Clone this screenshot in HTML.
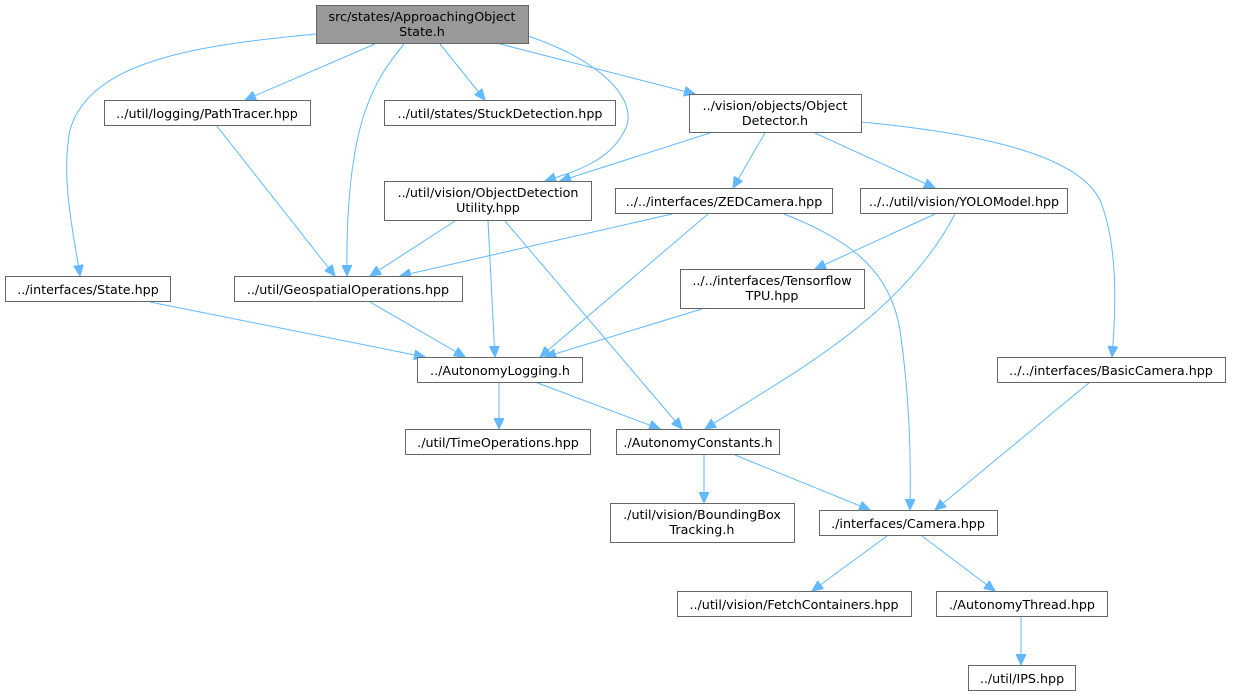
<!DOCTYPE html>
<html><head><meta charset="utf-8"><style>
html,body{margin:0;padding:0;background:#fff;}
svg{display:block;}
text{font-family:"DejaVu Sans","Liberation Sans",sans-serif;font-size:12.7px;fill:#000;}
.n{fill:#fff;stroke:#666;stroke-width:1;}
.e{fill:none;stroke:#63b8ff;stroke-width:1;marker-end:url(#a);}
</style></head><body>
<svg width="1233" height="696" viewBox="0 0 1233 696" xmlns="http://www.w3.org/2000/svg">
<defs><marker id="a" markerWidth="12" markerHeight="10" refX="11" refY="5" orient="auto" markerUnits="userSpaceOnUse"><path d="M0,0 L11,5 L0,10 z" fill="#63b8ff" stroke="#63b8ff"/></marker></defs>
<g>
<path class="e" d="M316,34 C200,45 90,60 70,130 C60,180 75,240 80,276"/>
<path class="e" d="M375,44 L245,100"/>
<path class="e" d="M404,44 C375,80 345,120 347,276"/>
<path class="e" d="M440,44 L485,100"/>
<path class="e" d="M500,44 L695,94"/>
<path class="e" d="M528,36 C600,60 640,100 625,130 C610,160 580,170 545,181"/>
<path class="e" d="M216,125 L335,276"/>
<path class="e" d="M710,133 L560,181"/>
<path class="e" d="M765,133 L733,188"/>
<path class="e" d="M815,133 L935,188"/>
<path class="e" d="M861,122 C1000,135 1080,160 1100,200 C1120,250 1115,320 1112,357"/>
<path class="e" d="M455,221 L370,276"/>
<path class="e" d="M488,221 L495,357"/>
<path class="e" d="M505,221 L682,429"/>
<path class="e" d="M672,214 L400,276"/>
<path class="e" d="M708,214 L540,357"/>
<path class="e" d="M784,214 C850,240 890,270 900,330 C910,400 911,460 910,510"/>
<path class="e" d="M935,214 L815,269"/>
<path class="e" d="M955,214 C900,320 780,380 705,429"/>
<path class="e" d="M705,308 L545,357"/>
<path class="e" d="M150,302 L425,357"/>
<path class="e" d="M370,302 L465,357"/>
<path class="e" d="M499,382 L499,429"/>
<path class="e" d="M535,382 L660,429"/>
<path class="e" d="M1090,382 L935,510"/>
<path class="e" d="M704,455 L704,503"/>
<path class="e" d="M735,455 L870,510"/>
<path class="e" d="M887,536 L812,591"/>
<path class="e" d="M922,536 L995,591"/>
<path class="e" d="M1021,617 L1021,665"/>
</g>
<g text-anchor="middle">
<rect x="316.5" y="5.5" width="212" height="38" style="fill:#999;stroke:#666"/>
<text x="422" y="21">src/states/ApproachingObject</text><text x="422" y="36">State.h</text>
<rect class="n" x="104.5" y="100.5" width="206" height="25"/><text x="207" y="118">../util/logging/PathTracer.hpp</text>
<rect class="n" x="384.5" y="100.5" width="231" height="25"/><text x="500" y="118">../util/states/StuckDetection.hpp</text>
<rect class="n" x="689.5" y="94.5" width="172" height="38"/><text x="775" y="110">../vision/objects/Object</text><text x="775" y="125">Detector.h</text>
<rect class="n" x="384.5" y="181.5" width="207" height="39"/><text x="488" y="197">../util/vision/ObjectDetection</text><text x="488" y="212">Utility.hpp</text>
<rect class="n" x="615.5" y="188.5" width="217" height="25"/><text x="724" y="206">../../interfaces/ZEDCamera.hpp</text>
<rect class="n" x="860.5" y="188.5" width="207" height="25"/><text x="964" y="206">../../util/vision/YOLOModel.hpp</text>
<rect class="n" x="5.5" y="276.5" width="165" height="25"/><text x="88" y="294">../interfaces/State.hpp</text>
<rect class="n" x="234.5" y="276.5" width="228" height="25"/><text x="348" y="294">../util/GeospatialOperations.hpp</text>
<rect class="n" x="680.5" y="269.5" width="184" height="39"/><text x="772" y="285">../../interfaces/Tensorflow</text><text x="772" y="300">TPU.hpp</text>
<rect class="n" x="997.5" y="357.5" width="228" height="25"/><text x="1111" y="375">../../interfaces/BasicCamera.hpp</text>
<rect class="n" x="417.5" y="357.5" width="165" height="25"/><text x="500" y="375">../AutonomyLogging.h</text>
<rect class="n" x="405.5" y="429.5" width="185" height="25"/><text x="498" y="447">./util/TimeOperations.hpp</text>
<rect class="n" x="616.5" y="429.5" width="163" height="25"/><text x="698" y="447">./AutonomyConstants.h</text>
<rect class="n" x="610.5" y="503.5" width="184" height="39"/><text x="702" y="519">./util/vision/BoundingBox</text><text x="702" y="534">Tracking.h</text>
<rect class="n" x="819.5" y="510.5" width="178" height="25"/><text x="908" y="528">./interfaces/Camera.hpp</text>
<rect class="n" x="677.5" y="591.5" width="234" height="25"/><text x="794" y="609">../util/vision/FetchContainers.hpp</text>
<rect class="n" x="936.5" y="591.5" width="171" height="25"/><text x="1022" y="609">./AutonomyThread.hpp</text>
<rect class="n" x="968.5" y="665.5" width="107" height="25"/><text x="1022" y="683">../util/IPS.hpp</text>
</g>
</svg>
</body></html>
